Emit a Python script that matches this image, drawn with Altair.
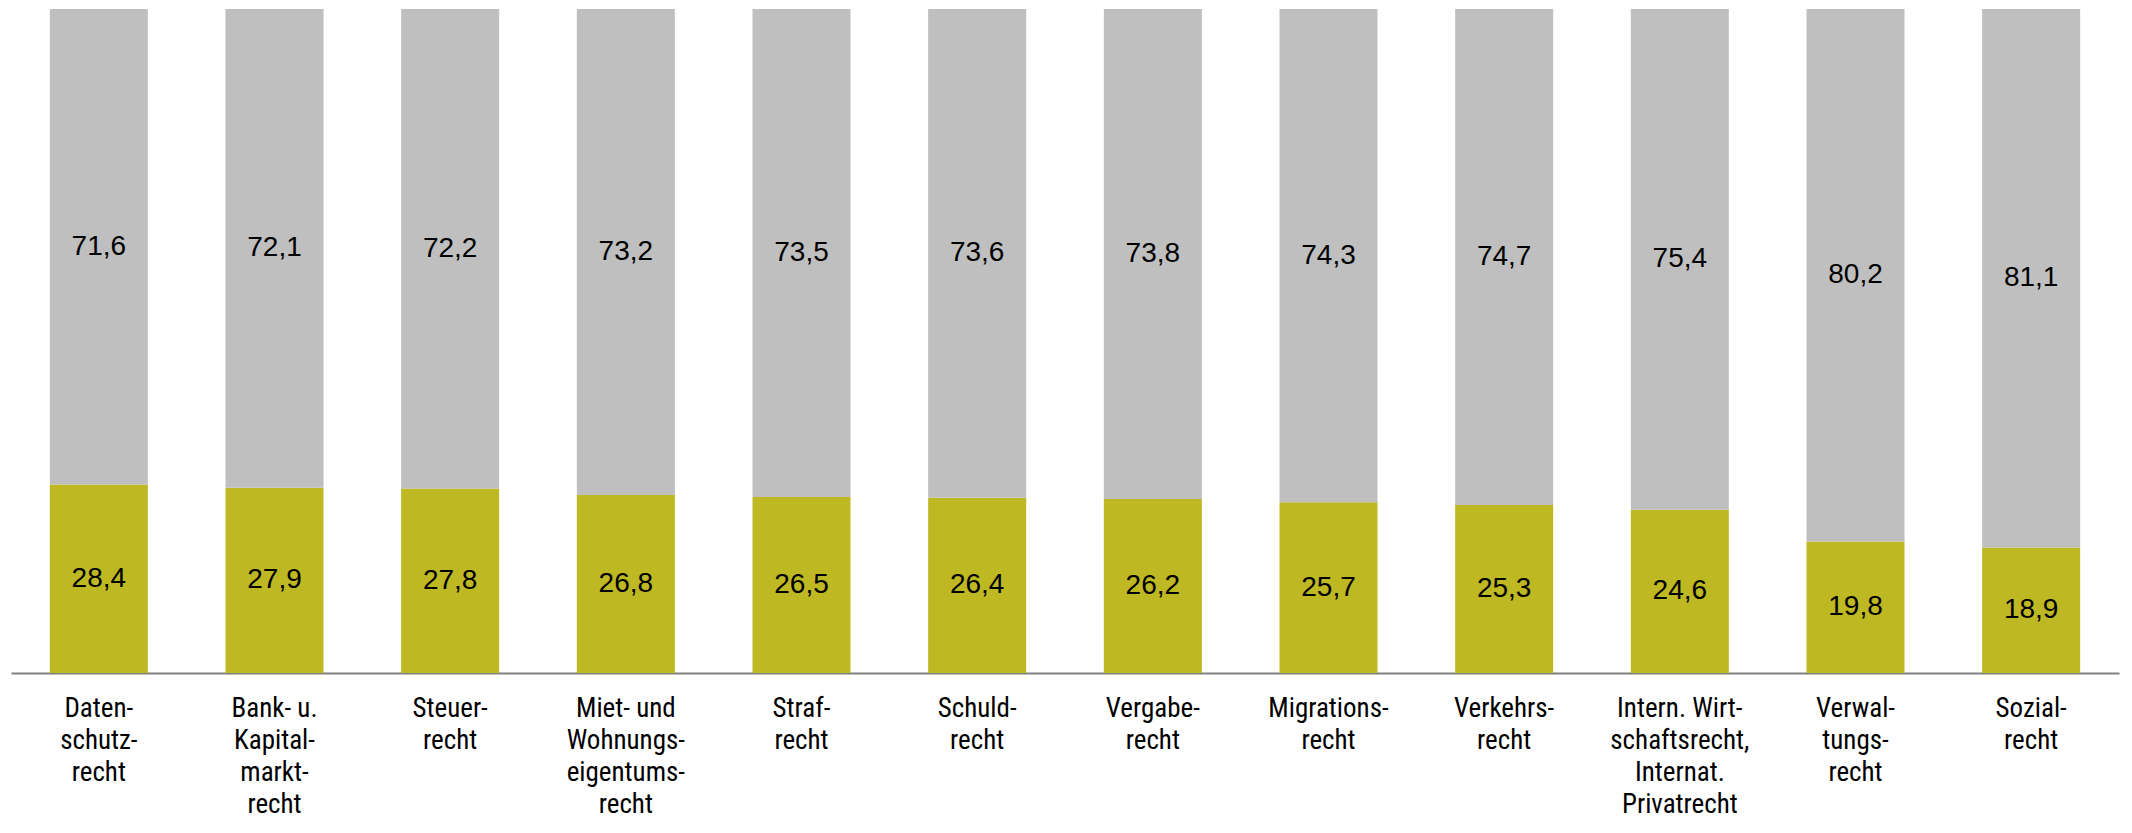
import altair as alt
import pandas as pd

categories = [
    "Daten-|schutz-|recht",
    "Bank- u.|Kapital-|markt-|recht",
    "Steuer-|recht",
    "Miet- und|Wohnungs-|eigentums-|recht",
    "Straf-|recht",
    "Schuld-|recht",
    "Vergabe-|recht",
    "Migrations-|recht",
    "Verkehrs-|recht",
    "Intern. Wirt-|schaftsrecht,|Internat.|Privatrecht",
    "Verwal-|tungs-|recht",
    "Sozial-|recht",
]
lower_values = [28.4, 27.9, 27.8, 26.8, 26.5, 26.4, 26.2, 25.7, 25.3, 24.6, 19.8, 18.9]
upper_values = [71.6, 72.1, 72.2, 73.2, 73.5, 73.6, 73.8, 74.3, 74.7, 75.4, 80.2, 81.1]
series = ["unten", "oben"]
colors = ["#BEB822", "#BFBFBF"]

rows = []
for c, lo, up in zip(categories, lower_values, upper_values):
    rows.append({"cat": c, "series": series[0], "ord": 0, "value": lo})
    rows.append({"cat": c, "series": series[1], "ord": 1, "value": up})
df = pd.DataFrame(rows)

base = alt.Chart(df).transform_stack(
    stack="value", groupby=["cat"], sort=[alt.SortField("ord", order="ascending")],
    as_=["y0", "y1"]
).transform_calculate(
    mid="(datum.y0 + datum.y1) / 2",
    lab="replace(format(datum.value, '.1f'), '.', ',')",
)

x_enc = alt.X(
    "cat:N", sort=categories, title=None,
    scale=alt.Scale(paddingInner=0.442, paddingOuter=0.221),
    axis=alt.Axis(
        labelAngle=0, ticks=False, domainColor="#808080", domainWidth=2,
        labelFont="Liberation Sans Narrow, Arial Narrow, Roboto Condensed, Roboto, sans-serif",
        labelFontSize=27, labelColor="#000000",
        labelLineHeight=32, labelPadding=22, labelExpr="split(datum.label, '|')",
        labelLimit=0, labelBaseline="top",
    ),
)
y_scale = alt.Scale(domain=[0, 100], nice=False)

bars = base.mark_bar(stroke=None).encode(
    x=x_enc,
    y=alt.Y("y0:Q", scale=y_scale, axis=None),
    y2="y1:Q",
    color=alt.Color("series:N", scale=alt.Scale(domain=series, range=colors), legend=None),
)

texts = base.mark_text(font="Liberation Sans, Arial, sans-serif", fontSize=28, color="#000000", baseline="middle").encode(
    x=alt.X("cat:N", sort=categories),
    y=alt.Y("mid:Q", scale=y_scale),
    text="lab:N",
)

chart = alt.layer(bars, texts).properties(
    width=2108, height=664,
    autosize=alt.AutoSizeParams(type="none"),
    padding={"left": 3, "top": 1, "right": 5, "bottom": 150},
).configure_view(stroke=None)

chart.save("out.html", embed_options={"renderer": "svg", "actions": False})
